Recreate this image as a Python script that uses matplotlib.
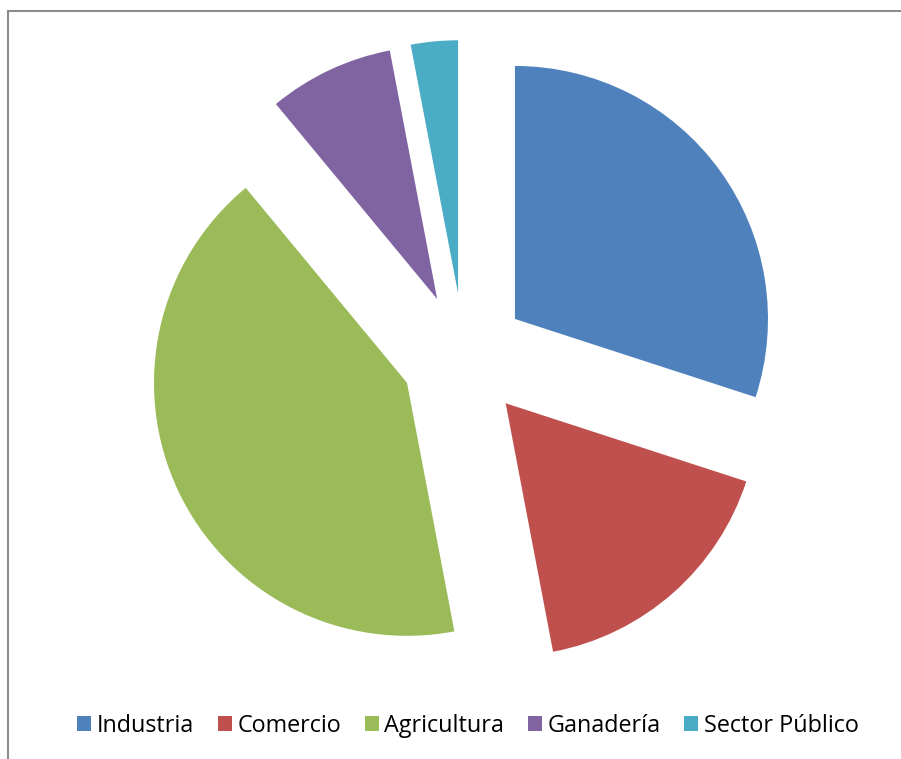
import matplotlib
matplotlib.use("Agg")
import matplotlib.pyplot as plt
from matplotlib.lines import Line2D
from matplotlib.patches import Patch

categories = ["Industria", "Comercio", "Agricultura", "Ganadería", "Sector Público"]
values = [30, 17, 42, 8, 3]
colors = ["#4F81BD", "#C0504D", "#9BBB59", "#8064A2", "#4BACC6"]

W, H = 901, 759
fig = plt.figure(figsize=(W / 100, H / 100), dpi=100)
ax = fig.add_axes([0, 0, 1, 1])

ax.pie(values, colors=colors, startangle=90, counterclock=False,
       center=(464, H - 356), radius=253, explode=[63] * len(values),
       wedgeprops=dict(linewidth=0), frame=True)
ax.set_xlim(0, W)
ax.set_ylim(0, H)
ax.set_aspect("equal")
ax.axis("off")

# chart border
fig.add_artist(Line2D([8 / W, 8 / W], [0, 1 - 11 / H], transform=fig.transFigure,
                      color="#8c8c8c", lw=1.5))
fig.add_artist(Line2D([8 / W, 1], [1 - 11 / H, 1 - 11 / H], transform=fig.transFigure,
                      color="#8c8c8c", lw=1.5))

handles = [Patch(facecolor=c, edgecolor="none") for c in colors]
fig.legend(handles, categories, loc="center", bbox_to_anchor=(468 / W, 1 - 726 / H),
           ncol=5, frameon=False, prop=dict(family="Open Sans", size=16.8),
           handlelength=0.6, handleheight=0.6, handletextpad=0.25, columnspacing=1.0)

fig.savefig("out.png", dpi=100, facecolor="white")
